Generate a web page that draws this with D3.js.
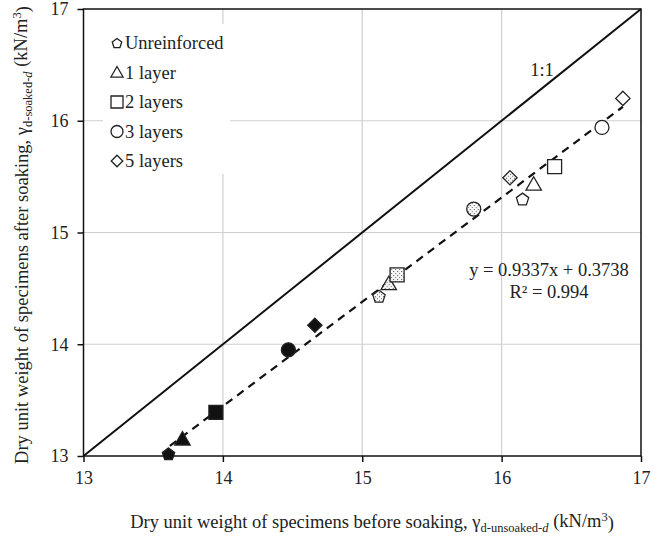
<!DOCTYPE html>
<html>
<head>
<meta charset="utf-8">
<script src="https://cdn.jsdelivr.net/npm/d3@7"></script>
<style>
  html, body { margin: 0; padding: 0; background: #fff; }
  svg { display: block; }
  text { font-family: "Liberation Serif", "Times New Roman", serif; fill: #222; }
</style>
</head>
<body>
<svg id="chart" width="667" height="538"></svg>
<script>
// Specimen groups and their marker shapes
const groups = ["Unreinforced", "1 layer", "2 layers", "3 layers", "5 layers"];
const shapes = ["pentagon", "triangle", "square", "circle", "diamond"];

// Dry unit weight before soaking (x) and after soaking (y), kN/m3, three compaction sets
const beforeSolid   = [13.61, 13.71, 13.95, 14.47, 14.66];
const afterSolid    = [13.02, 13.15, 13.39, 13.95, 14.17];
const beforeStipple = [15.12, 15.19, 15.25, 15.80, 16.06];
const afterStipple  = [14.43, 14.54, 14.62, 15.21, 15.49];
const beforeOpen    = [16.15, 16.23, 16.38, 16.72, 16.87];
const afterOpen     = [15.30, 15.43, 15.59, 15.94, 16.20];

// Axis ticks
const xTicks = [13, 14, 15, 16, 17];
const yTicks = [13, 14, 15, 16, 17];

// Linear fit through all points
const slope = 0.9337, intercept = 0.3738, r2 = 0.994;
const fitRange = [13.62, 16.87];

const svg = d3.select("#chart");
const margin = { left: 83.5, right: 26, top: 9, bottom: 82 };
const W = 667, H = 538;
const FS = 18.5, SUB = 12.5;

const x = d3.scaleLinear().domain([13, 17]).range([margin.left, W - margin.right]);
const y = d3.scaleLinear().domain([13, 17]).range([H - margin.bottom, margin.top]);

// Stipple pattern for the middle set
const defs = svg.append("defs");
const pat = defs.append("pattern").attr("id", "stipple")
  .attr("patternUnits", "userSpaceOnUse").attr("width", 4).attr("height", 4);
pat.append("rect").attr("width", 4).attr("height", 4).attr("fill", "#fafafa");
pat.append("rect").attr("x", 0).attr("y", 0).attr("width", 1.1).attr("height", 1.1).attr("fill", "#555");
pat.append("rect").attr("x", 2).attr("y", 2).attr("width", 1.1).attr("height", 1.1).attr("fill", "#777");

// Gridlines
const grid = svg.append("g");
grid.selectAll("line.gx").data(xTicks.slice(1, -1)).join("line")
  .attr("x1", d => x(d)).attr("x2", d => x(d))
  .attr("y1", y(13)).attr("y2", y(17))
  .attr("stroke", "#cfcfcf").attr("stroke-width", 1.2);
grid.selectAll("line.gy").data(yTicks.slice(1, -1)).join("line")
  .attr("y1", d => y(d)).attr("y2", d => y(d))
  .attr("x1", x(13)).attr("x2", x(17))
  .attr("stroke", "#cfcfcf").attr("stroke-width", 1.2);

// Marker path generator
function markerPath(shape, s) {
  const p = d3.path();
  if (shape === "circle") {
    p.arc(0, 0, s * 0.5, 0, 2 * Math.PI);
  } else if (shape === "square") {
    const h = s * 0.5;
    p.rect(-h, -h, 2 * h, 2 * h);
  } else if (shape === "triangle") {
    const h = s * 0.55;
    p.moveTo(0, -h); p.lineTo(h, h * 0.75); p.lineTo(-h, h * 0.75); p.closePath();
  } else if (shape === "diamond") {
    const h = s * 0.55;
    p.moveTo(0, -h); p.lineTo(h, 0); p.lineTo(0, h); p.lineTo(-h, 0); p.closePath();
  } else if (shape === "pentagon") {
    const r = s * 0.5;
    for (let i = 0; i < 5; i++) {
      const a = -Math.PI / 2 + i * 2 * Math.PI / 5;
      const px = r * Math.cos(a), py = r * Math.sin(a) + r * 0.1;
      if (i === 0) p.moveTo(px, py); else p.lineTo(px, py);
    }
    p.closePath();
  }
  return p.toString();
}

// 1:1 line
svg.append("line")
  .attr("x1", x(13)).attr("y1", y(13)).attr("x2", x(17)).attr("y2", y(17))
  .attr("stroke", "#111").attr("stroke-width", 2);

// Fitted trend line
svg.append("line")
  .attr("x1", x(fitRange[0])).attr("y1", y(slope * fitRange[0] + intercept))
  .attr("x2", x(fitRange[1])).attr("y2", y(slope * fitRange[1] + intercept))
  .attr("stroke", "#111").attr("stroke-width", 2.2).attr("stroke-dasharray", "8,6");

// Data points
const sets = [
  { xs: beforeSolid, ys: afterSolid, fill: "#111" },
  { xs: beforeStipple, ys: afterStipple, fill: "url(#stipple)" },
  { xs: beforeOpen, ys: afterOpen, fill: "#fff" }
];
const sizes = { pentagon: 13, triangle: 14, square: 14, circle: 14, diamond: 13 };
sets.forEach(set => {
  svg.append("g").selectAll("path").data(set.xs).join("path")
    .attr("d", (d, i) => markerPath(shapes[i], sizes[shapes[i]]))
    .attr("transform", (d, i) => `translate(${x(d)},${y(set.ys[i])})`)
    .attr("fill", set.fill)
    .attr("stroke", "#222").attr("stroke-width", 1.3);
});

// Frame and axes
svg.append("rect")
  .attr("x", x(13)).attr("y", y(17))
  .attr("width", x(17) - x(13)).attr("height", y(13) - y(17))
  .attr("fill", "none").attr("stroke", "#111").attr("stroke-width", 1.5);

const xAxis = svg.append("g").attr("transform", `translate(0,${y(13)})`)
  .call(d3.axisBottom(x).tickValues(xTicks).tickSize(6).tickPadding(9).tickFormat(d3.format("d")));
const yAxis = svg.append("g").attr("transform", `translate(${x(13)},0)`)
  .call(d3.axisLeft(y).tickValues(yTicks).tickSize(6).tickPadding(9).tickFormat(d3.format("d")));
[xAxis, yAxis].forEach(a => {
  a.select(".domain").remove();
  a.selectAll("line").attr("stroke", "#111").attr("stroke-width", 1.5);
  a.selectAll("text").attr("font-size", 18).attr("font-family", "Liberation Serif").attr("fill", "#222");
});

// Legend
const legendSizes = { pentagon: 10, triangle: 11, square: 12, circle: 12, diamond: 10.5 };
const legend = svg.append("g");
legend.append("rect").attr("x", 103).attr("y", 24).attr("width", 127).attr("height", 150).attr("fill", "#fff");
groups.forEach((g, i) => {
  const cy = 43 + i * 29.5;
  legend.append("path")
    .attr("d", markerPath(shapes[i], legendSizes[shapes[i]]))
    .attr("transform", `translate(117,${cy})`)
    .attr("fill", "#fff").attr("stroke", "#222").attr("stroke-width", 1.3);
  legend.append("text").attr("x", 125).attr("y", cy).attr("dy", "0.35em")
    .attr("font-size", FS).text(g);
});

// Annotations
svg.append("text").attr("x", 542).attr("y", 70).attr("dy", "0.35em")
  .attr("text-anchor", "middle").attr("font-size", FS).text("1:1");
svg.append("text").attr("x", 549).attr("y", 270).attr("dy", "0.35em")
  .attr("text-anchor", "middle").attr("font-size", FS)
  .text(`y = ${slope}x + ${intercept}`);
svg.append("text").attr("x", 549).attr("y", 292).attr("dy", "0.35em")
  .attr("text-anchor", "middle").attr("font-size", FS)
  .text(`R² = ${r2}`);

// Axis titles
function subTitle(sel, lead, sub) {
  sel.append("tspan").text(lead);
  sel.append("tspan").attr("font-size", SUB).attr("dy", "0.3em").text(sub);
  sel.append("tspan").attr("font-size", SUB).attr("font-style", "italic").text("d");
  sel.append("tspan").attr("dy", "-0.3em").attr("font-size", FS).text(" (kN/m");
  sel.append("tspan").attr("font-size", SUB).attr("dy", "-0.45em").text("3");
  sel.append("tspan").attr("font-size", FS).attr("dy", "0.45em").text(")");
}
const xt = svg.append("text").attr("x", 372).attr("y", 522).attr("dy", "0.35em")
  .attr("text-anchor", "middle").attr("font-size", FS);
subTitle(xt, "Dry unit weight of specimens before soaking, γ", "d-unsoaked-");

const yt = svg.append("text")
  .attr("transform", `translate(22,235) rotate(-90)`)
  .attr("dy", "0.35em").attr("text-anchor", "middle").attr("font-size", FS);
subTitle(yt, "Dry unit weight of specimens after soaking, γ", "d-soaked-");
</script>
</body>
</html>
